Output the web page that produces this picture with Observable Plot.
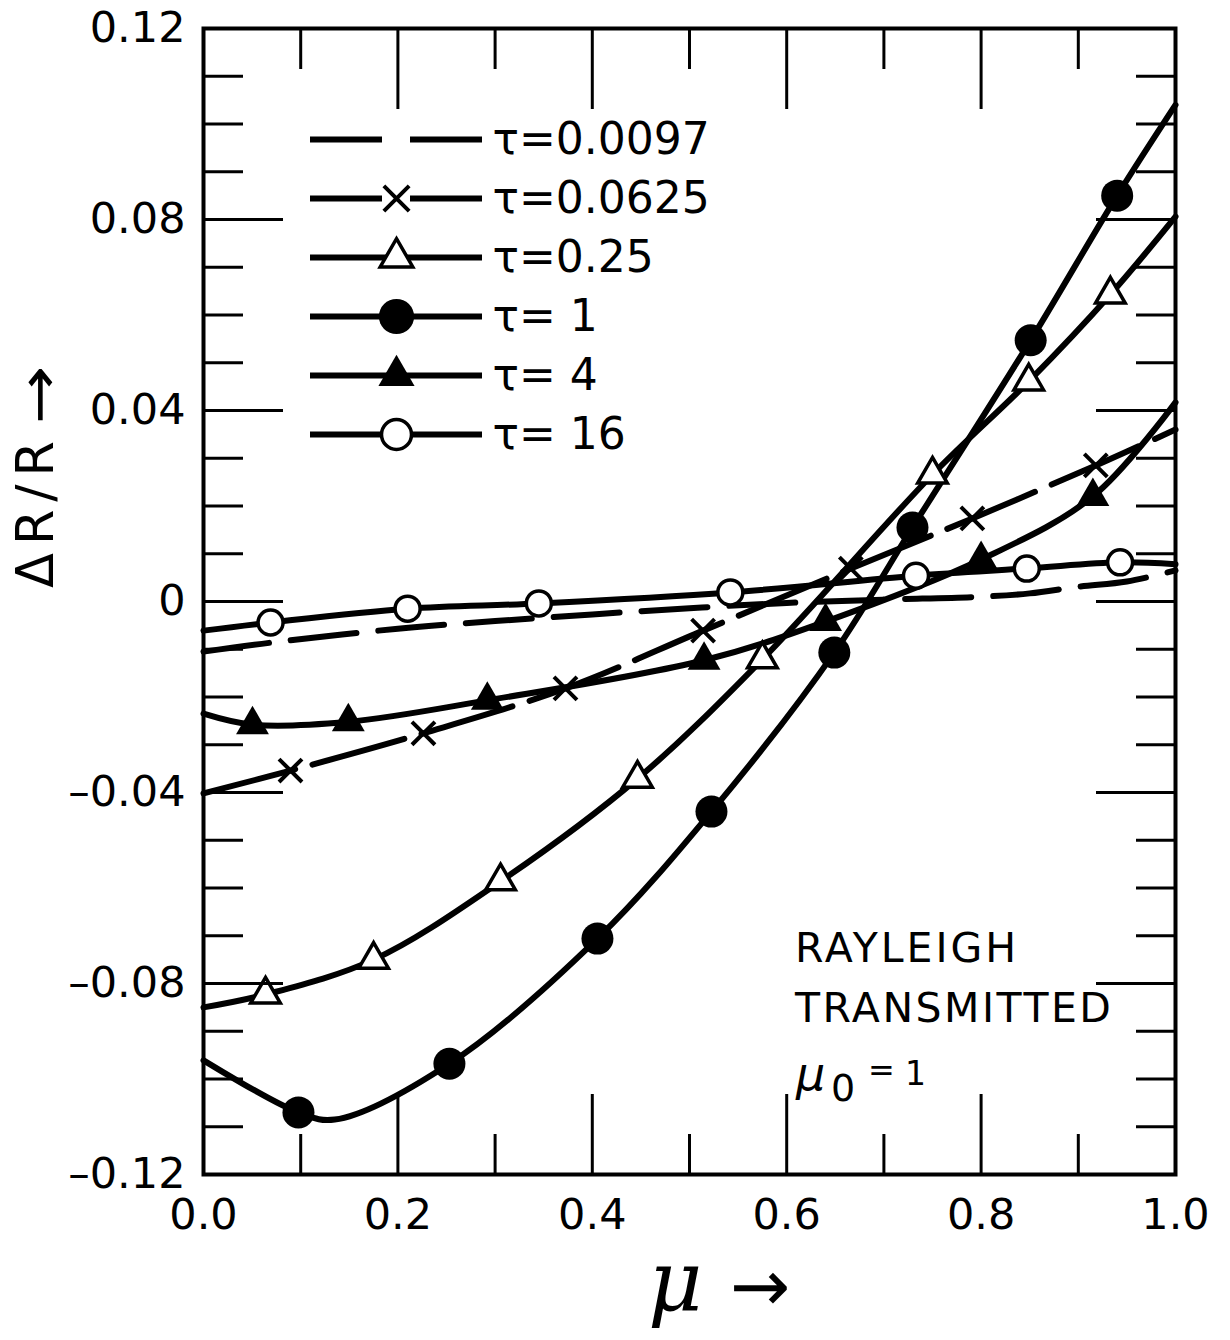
<!DOCTYPE html>
<html><head><meta charset="utf-8">
<script src="https://cdn.jsdelivr.net/npm/d3@7"></script>
<script src="https://cdn.jsdelivr.net/npm/@observablehq/plot@0.6"></script>
<style>
body{margin:0;background:#fff;}
#wrap{position:relative;width:1230px;height:1340px;overflow:hidden;background:#fff;}
#wrap > svg{position:absolute;}
</style></head>
<body><div id="wrap"></div>
<script>
// ---------- data: [mu, dR/R] ----------
const muTicks = [0, 0.2, 0.4, 0.6, 0.8, 1.0];
const muTickLabels = ["0.0", "0.2", "0.4", "0.6", "0.8", "1.0"];
const dTicks = [-0.12, -0.08, -0.04, 0, 0.04, 0.08, 0.12];
const dTickLabels = ["–0.12", "–0.08", "–0.04", "0", "0.04", "0.08", "0.12"];
const seriesNames = ["τ=0.0097", "τ=0.0625", "τ=0.25", "τ= 1", "τ= 4", "τ= 16"];

// tau = 0.0097 (dashed, no symbols)
const curve0097 = [[0,-0.0105],[0.07,-0.0086],[0.2,-0.0057],[0.3,-0.0041],[0.4,-0.0027],[0.5,-0.0014],[0.6,-0.0003],[0.7,0.0004],[0.8,0.0010],[0.85,0.0017],[0.9,0.0031],[0.95,0.0042],[1.0,0.0065]];
// tau = 0.0625 (x)
const curve0625 = [[0,-0.0402],[0.0895,-0.0354],[0.2263,-0.0276],[0.3724,-0.0182],[0.514,-0.0061],[0.666,0.0069],[0.791,0.0174],[0.918,0.0285],[1.0,0.0360]];
const marks0625 = [[0.0895,-0.0354],[0.2263,-0.0276],[0.3724,-0.0182],[0.514,-0.0061],[0.666,0.0069],[0.791,0.0174],[0.918,0.0285]];
// tau = 0.25 (open triangles)
const curve025 = [[0,-0.0850],[0.0638,-0.0823],[0.175,-0.0750],[0.3056,-0.0586],[0.4465,-0.0371],[0.575,-0.0121],[0.75,0.0266],[0.849,0.0461],[0.933,0.0643],[1.0,0.0806]];
const marks025 = [[0.0638,-0.0823],[0.175,-0.0750],[0.3056,-0.0586],[0.4465,-0.0371],[0.575,-0.0121],[0.75,0.0266],[0.849,0.0461],[0.933,0.0643]];
// tau = 1 (filled circles)
const curve1 = [[0,-0.0961],[0.0977,-0.1070],[0.135,-0.1085],[0.253,-0.0968],[0.4053,-0.0706],[0.5226,-0.0440],[0.649,-0.0107],[0.7294,0.0155],[0.851,0.0547],[0.940,0.0850],[1.0,0.1040]];
const marks1 = [[0.0977,-0.1070],[0.253,-0.0968],[0.4053,-0.0706],[0.5226,-0.0440],[0.649,-0.0107],[0.7294,0.0155],[0.851,0.0547],[0.940,0.0850]];
// tau = 4 (filled triangles)
const curve4 = [[0,-0.0235],[0.0504,-0.0258],[0.149,-0.0252],[0.292,-0.0207],[0.515,-0.0123],[0.640,-0.0042],[0.800,0.0088],[0.915,0.0220],[1.0,0.0417]];
const marks4 = [[0.0504,-0.0258],[0.149,-0.0252],[0.292,-0.0207],[0.515,-0.0123],[0.640,-0.0042],[0.800,0.0088],[0.915,0.0220]];
// tau = 16 (open circles)
const curve16 = [[0,-0.0061],[0.069,-0.0044],[0.210,-0.0015],[0.345,-0.0004],[0.542,0.0019],[0.733,0.0054],[0.847,0.0069],[0.943,0.0082],[1.0,0.0078]];
const marks16 = [[0.069,-0.0044],[0.210,-0.0015],[0.345,-0.0004],[0.542,0.0019],[0.733,0.0054],[0.847,0.0069],[0.943,0.0082]];

// ---------- styles ----------
const FONT = "DejaVu Sans";
const LW = 6;
const lineBase = {x: d => d[0], y: d => d[1], stroke: "black", strokeWidth: LW, curve: "catmull-rom"};
const symStyles = {
  "τ=0.0097": {dash: "66,22", symbol: null},
  "τ=0.0625": {dash: "95,18", symbol: "times", r: 10.5, fill: "none", stroke: "black", sw: 4},
  "τ=0.25": {dash: null, symbol: "triangle", r: 11, fill: "white", stroke: "black", sw: 3.5},
  "τ= 1": {dash: null, symbol: "circle", r: 16, fill: "black", stroke: "none", sw: 0},
  "τ= 4": {dash: null, symbol: "triangle", r: 12.2, fill: "black", stroke: "none", sw: 0},
  "τ= 16": {dash: null, symbol: "circle", r: 12.5, fill: "white", stroke: "black", sw: 3.5}
};
const curves = {"τ=0.0097": curve0097, "τ=0.0625": curve0625, "τ=0.25": curve025, "τ= 1": curve1, "τ= 4": curve4, "τ= 16": curve16};
const markers = {"τ=0.0625": marks0625, "τ=0.25": marks025, "τ= 1": marks1, "τ= 4": marks4, "τ= 16": marks16};

const xMinor = [0.1, 0.3, 0.5, 0.7, 0.9];
const xMajor = [0.2, 0.4, 0.6, 0.8];
const yAll = d3.range(-11, 12).map(k => k / 100);
const yMajor = yAll.filter(v => Math.abs(Math.round(v * 100)) % 4 === 0);
const yMinor = yAll.filter(v => Math.abs(Math.round(v * 100)) % 4 !== 0);
const muLab = new Map(muTicks.map((t, i) => [t, muTickLabels[i]]));
const dLab = new Map(dTicks.map((t, i) => [t, dTickLabels[i]]));

const tickOpts = {fill: "none", label: null, strokeWidth: 3, tickFormat: () => ""};

const marks = [];
for (const name of seriesNames) {
  const s = symStyles[name];
  marks.push(Plot.line(curves[name], {...lineBase, strokeDasharray: s.dash || undefined}));
}
for (const name of seriesNames) {
  const s = symStyles[name];
  if (!s.symbol) continue;
  marks.push(Plot.dot(markers[name], {x: d => d[0], y: d => d[1], symbol: s.symbol, r: s.r, fill: s.fill, stroke: s.stroke, strokeWidth: s.sw}));
}
marks.push(
  Plot.axisX(xMinor, {anchor: "bottom", tickSize: -40, ...tickOpts}),
  Plot.axisX(xMinor, {anchor: "top", tickSize: -40, ...tickOpts}),
  Plot.axisX(xMajor, {anchor: "bottom", tickSize: -80, ...tickOpts}),
  Plot.axisX(xMajor, {anchor: "top", tickSize: -80, ...tickOpts}),
  Plot.axisY(yMinor, {anchor: "left", tickSize: -40, ...tickOpts}),
  Plot.axisY(yMinor, {anchor: "right", tickSize: -40, ...tickOpts}),
  Plot.axisY(yMajor, {anchor: "left", tickSize: -80, ...tickOpts}),
  Plot.axisY(yMajor, {anchor: "right", tickSize: -80, ...tickOpts}),
  Plot.axisX(muTicks, {anchor: "bottom", tickSize: 0, tickPadding: 24, fontSize: 43, label: null, tickFormat: d => muLab.get(d)}),
  Plot.axisY(dTicks, {anchor: "left", tickSize: 0, tickPadding: 18, fontSize: 43, label: null, tickFormat: d => dLab.get(d)}),
  Plot.frame({stroke: "black", strokeWidth: 4})
);

const chart = Plot.plot({
  width: 1230, height: 1340,
  marginLeft: 203, marginRight: 55, marginTop: 28, marginBottom: 166,
  x: {domain: [0, 1]},
  y: {domain: [-0.12, 0.12]},
  style: {fontFamily: FONT, background: "white", color: "black", overflow: "visible"},
  marks
});
chart.style.left = "0px"; chart.style.top = "0px";
document.getElementById("wrap").appendChild(chart);

// ---------- legend (small Plot overlaid in the upper left of the frame) ----------
const legMarks = [];
for (const name of seriesNames) {
  const s = symStyles[name];
  const dash = (name === "τ=0.0097" || name === "τ=0.0625") ? "72,28" : undefined;
  legMarks.push(Plot.ruleY([name], {y: d => d, x1: () => 0, x2: () => 1, stroke: "black", strokeWidth: LW, strokeDasharray: dash}));
  if (s.symbol) legMarks.push(Plot.dot([name], {y: d => d, x: () => 0.5, symbol: s.symbol, r: s.symbol === "circle" && s.fill === "white" ? 15 : s.r * 1.1, fill: s.fill, stroke: s.stroke, strokeWidth: s.sw}));
}
legMarks.push(Plot.text(seriesNames, {y: d => d, x: () => 1, text: d => d, dx: 10, textAnchor: "start", fontSize: 44, fill: "black"}));
const legend = Plot.plot({
  width: 460, height: 360,
  x: {domain: [0, 1], range: [20, 192], axis: null},
  y: {type: "point", domain: seriesNames, range: [37, 335], padding: 0, axis: null},
  style: {fontFamily: FONT, background: "transparent", color: "black", overflow: "visible"},
  marks: legMarks
});
legend.style.left = "290px"; legend.style.top = "100px";
document.getElementById("wrap").appendChild(legend);

// ---------- titles and annotation ----------
const svg = d3.select(chart);
const txt = (x, y, s, size, extra = {}) => {
  const t = svg.append("text").attr("x", x).attr("y", y).attr("font-size", size)
    .attr("font-family", extra.family || FONT).attr("fill", "black")
    .attr("text-anchor", extra.anchor || "start").text(s);
  if (extra.style) t.attr("font-style", extra.style);
  if (extra.ls) t.attr("letter-spacing", extra.ls);
  if (extra.transform) t.attr("transform", extra.transform);
  return t;
};
// y title (rotated)
txt(0, 0, "ΔR/R", 51, {ls: 8, transform: "translate(53,588) rotate(-90)"});
txt(0, 0, "→", 56, {transform: "translate(58,424) rotate(-90) scale(1.25,1)"});
// x title
txt(648, 1310, "μ", 84, {family: "DejaVu Serif", style: "italic"});
txt(730, 1311, "→", 72);
// annotation
txt(795, 962, "RAYLEIGH", 41, {ls: 3});
txt(795, 1022, "TRANSMITTED", 41, {ls: 2.5});
txt(796, 1090, "μ", 46, {style: "italic"});
txt(831, 1101, "0", 38);
txt(868, 1081, "=", 32);
txt(905, 1085, "1", 33);
</script></body></html>
